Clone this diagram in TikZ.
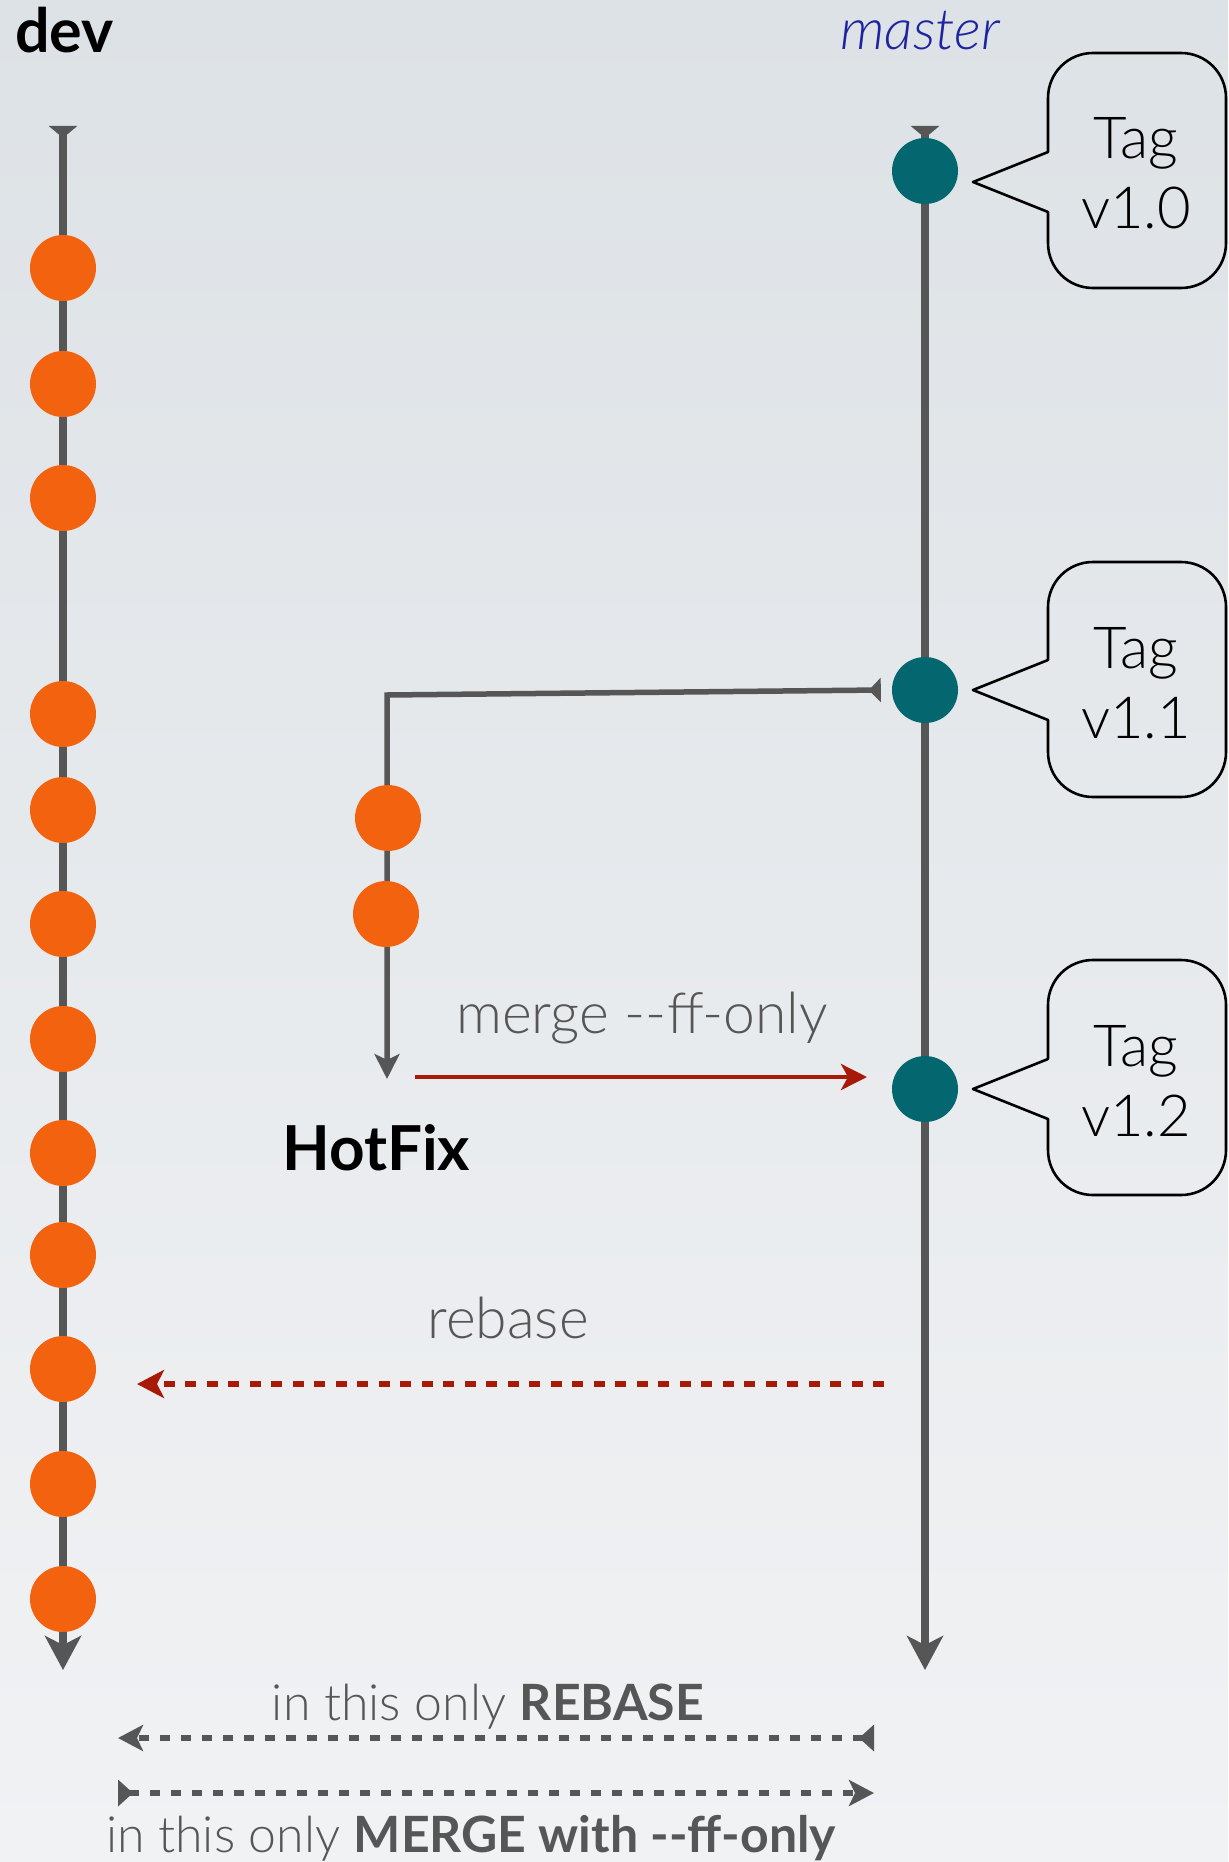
\documentclass[tikz,border=0pt]{standalone}
\usepackage{fontspec}
\setmainfont{Lato Light}[BoldFont={Lato Bold},ItalicFont={Lato Light Italic},BoldItalicFont={Lato Bold Italic}]
\usetikzlibrary{arrows.meta}
\definecolor{bgtop}{HTML}{DDE2E6}
\definecolor{bgbot}{HTML}{F1F2F4}
\definecolor{linegray}{HTML}{565656}
\definecolor{devorange}{HTML}{F3620F}
\definecolor{mteal}{HTML}{046770}
\definecolor{arrred}{HTML}{A81A08}
\definecolor{mblue}{HTML}{1E24A0}
\newcommand\dd{-\kern0pt-}
\newcommand\tagcallout[3]{%
  \draw[bubble] (1048,#2-30) -- (1048,#1+45) .. controls (1048,#1+20) and (1068,#1) .. (1093,#1)
    -- (1181,#1) .. controls (1206,#1) and (1226,#1+20) .. (1226,#1+45)
    -- (1226,#1+190) .. controls (1226,#1+215) and (1206,#1+235) .. (1181,#1+235)
    -- (1093,#1+235) .. controls (1068,#1+235) and (1048,#1+215) .. (1048,#1+190)
    -- (1048,#2+30) -- (973,#2) -- cycle;
  \node[tagtext] (tag#3a) at (1136,#1+106) {Tag};
  \node[tagtext] (tag#3b) at (1136,#1+176) {v1.#3};
}
\begin{document}
\begin{tikzpicture}[x=1pt,y=-1pt,
  trunk/.style={draw=linegray,line width=7.5pt},
  commit/.style={circle,inner sep=0pt,minimum size=66pt},
  dc/.style={commit,fill=devorange},
  mc/.style={commit,fill=mteal},
  bubble/.style={draw=black,line width=2.6pt,line join=round},
  tagtext/.style={anchor=base,inner sep=0pt,text=black,font=\fontsize{58}{70}\selectfont},
  lbl/.style={anchor=base,inner sep=0pt,text=linegray},
  tailtip/.tip={Triangle[reversed,width=28pt,length=12pt]},
  bigtip/.tip={Stealth[width=36pt,length=34pt,inset=9pt]},
  smalltip/.tip={Stealth[width=26pt,length=26pt,inset=7pt]},
]
\useasboundingbox (0,0) rectangle (1228,1862);
\shade[top color=bgtop,bottom color=bgbot] (0,0) rectangle (1228,1862);

% labels on top
\node[anchor=base west,inner sep=0pt,font=\fontsize{61}{72}\selectfont\bfseries] (devlbl) at (15,53) {dev};
\node[anchor=base west,inner sep=0pt,text=mblue,font=\fontsize{57}{68}\selectfont\itshape] (mlbl) at (840,50) {master};

% trunks
\coordinate (devtop) at (63,126);
\coordinate (devend) at (63,1670);
\coordinate (mtop) at (925,126);
\coordinate (mend) at (925,1670);
\draw[trunk,{tailtip}-{bigtip}] (devtop) -- (devend);
\draw[trunk,{tailtip}-{bigtip}] (mtop) -- (mend);

% dev commits
\foreach \y [count=\i] in {268,384,498,714,810,924,1039,1153,1255,1369,1484,1599}
  \node[dc] (d\i) at (63,\y) {};

% master commits
\node[mc] (m1) at (925,171) {};
\node[mc] (m2) at (925,690) {};
\node[mc] (m3) at (925,1089) {};

% hotfix branch
\coordinate (hfcorner) at (387,695);
\coordinate (hfend) at (387,1079);
\draw[draw=linegray,line width=5.5pt,line join=miter,{Triangle[reversed,width=24pt,length=12pt]}-{Stealth[width=25pt,length=25pt,inset=6pt]}]
  ([xshift=-11pt]m2.west) -- (hfcorner) -- (hfend);
\node[dc] (h1) at (388,818) {};
\node[dc] (h2) at (386,914) {};
\node[anchor=base west,inner sep=0pt,font=\fontsize{62}{74}\selectfont\bfseries] (hflbl) at (282,1170) {HotFix};

% merge --ff-only
\coordinate (mgs) at (415,1077);
\coordinate (mge) at (867,1077);
\draw[draw=arrred,line width=4.5pt,-{smalltip}] (mgs) -- (mge);
\node[lbl,font=\fontsize{57}{68}\selectfont] (mglbl) at (642,1033) {merge \dd ff-only};

% rebase
\coordinate (rbs) at (884,1384);
\coordinate (rbe) at (137,1384);
\draw[draw=arrred,line width=6pt,dash pattern=on 11pt off 10.5pt,-{Stealth[width=28pt,length=27pt,inset=7pt]}] (rbs) -- (rbe);
\node[lbl,font=\fontsize{57}{68}\selectfont] (rblbl) at (508,1338) {rebase};

% bottom arrows
\coordinate (b1s) at (874,1738);
\coordinate (b1e) at (118,1738);
\coordinate (b2s) at (118,1793);
\coordinate (b2e) at (874,1793);
\draw[draw=linegray,line width=5.5pt,dash pattern=on 10pt off 11pt,{Triangle[reversed,width=26pt,length=15pt]}-{Stealth[width=26pt,length=25pt,inset=6pt]}] (b1s) -- (b1e);
\draw[draw=linegray,line width=5.5pt,dash pattern=on 10pt off 11pt,{Triangle[reversed,width=26pt,length=15pt]}-{Stealth[width=26pt,length=25pt,inset=6pt]}] (b2s) -- (b2e);
\node[lbl,font=\fontsize{50}{60}\selectfont] (t1) at (488,1720) {in this only \textbf{REBASE}};
\node[lbl,font=\fontsize{50}{60}\selectfont] (t2) at (471,1852) {in this only \textbf{MERGE with \dd ff-only}};

% tag callouts
\tagcallout{53}{182}{0}
\tagcallout{562}{690}{1}
\tagcallout{960}{1089}{2}
\end{tikzpicture}
\end{document}
